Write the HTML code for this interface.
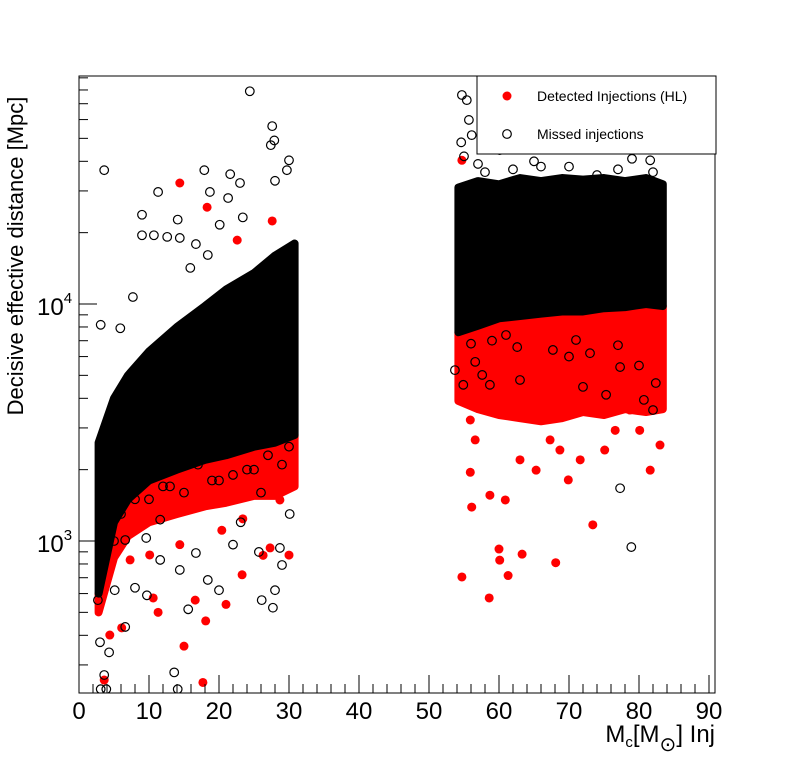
<!DOCTYPE html>
<html><head><meta charset="utf-8">
<style>
html,body{margin:0;padding:0;background:#fff;}
svg{display:block;font-family:"Liberation Sans",sans-serif;}
</style></head>
<body>
<svg id="chart" width="796" height="772" viewBox="0 0 796 772">
<rect x="0" y="0" width="796" height="772" fill="#fff"/>
<g id="plot"></g>
<g id="axes"></g>
<rect x="79" y="76" width="636" height="617" fill="none" stroke="#000" stroke-width="1"/>
<g>
<rect x="477" y="76" width="239" height="78" fill="#fff" stroke="#000" stroke-width="1"/>
<circle cx="507" cy="96" r="4.5" fill="#ff0000"/>
<text x="537" y="101" font-size="14">Detected Injections (HL)</text>
<circle cx="507" cy="134" r="4.3" fill="none" stroke="#000" stroke-width="1.2"/>
<text x="537" y="139" font-size="14">Missed injections</text>
</g>
<text transform="translate(23,256) rotate(-90)" text-anchor="middle" font-size="22">Decisive effective distance [Mpc]</text>
<text x="715" y="742" text-anchor="end" font-size="24">M<tspan font-size="15" dy="5">c</tspan><tspan dy="-5">[M</tspan><tspan font-size="20" dy="9">⊙</tspan><tspan dy="-9">] Inj</tspan></text>
</svg>
<script>
// ---- data ----
const xTicks = [0,10,20,30,40,50,60,70,80,90];
const yMajorTicks = [1000,10000];
const yMajorLabels = ["3","4"];
// Dense cores (envelopes of overlapping markers)
const core1X = [2.8,5,7,10,14,18,21,25,28,30.8];
const core1BlackHi = [2600,4000,5000,6300,8000,9800,11500,13500,16000,18000];
const core1BlackLo = [600,1200,1500,1800,2000,2200,2300,2500,2600,2800];
const core1RedLo = [500,850,1050,1200,1300,1400,1450,1550,1550,1700];
const core2X = [54.2,57,60,63,66,69,72,75,78,81,83.4];
const core2BlackHi = [31000,33000,32000,34000,33000,34000,33500,34000,33000,34000,32000];
const core2BlackLo = [7600,8100,8700,8900,9100,9300,9300,9600,9700,10000,9800];
const core2RedLo = [3900,3600,3400,3300,3200,3300,3500,3400,3600,3500,3600];
// Missed (black) outliers
const missedX = [3.6,3.1,5.9,7.7,9,9,11.3,10.7,12.6,14.1,14.4,17.9,18.7,21.6,23,24.4,27.6,27.9,27.4,30,28,29.7,21.3,23.4,20.1,16.7,18.4,15.9,
 13.6,14.1,3.1,3.9,3.6,3,4.3,2.7,5.1,9.7,11.6,14.4,20,26.1,27.7,28,25.7,29,28.7,22,16.7,18.4,8,6.6,15.6,9.6,23.1,30.1,11.6,6.6,
 19,25,13,8,22,27,17,30,10,12,15,20,24,26,29,5,6,
 54.7,55.4,55.7,56.1,54.6,71,75.6,81.6,80.1,63,68.7,60.1,58,66,74,57,62,70,77,82,55,65,79,
 57.6,58.7,54.9,62.6,71,72,75.3,80.7,82,77.3,67.7,56.6,53.7,63,77.3,78.9,66.9,77,82.4,59,70,80,61,73,56];
const missedY = [36700,8170,7900,10700,23800,19500,29700,19500,19200,22700,19000,36700,29700,35300,32400,79000,56300,49000,46800,40400,33100,36700,28000,23200,21600,17900,16100,14200,
 279,237,237,237,272,374,339,563,620,590,832,755,620,563,523,620,899,792,935,965,890,685,635,434,515,1030,1200,1300,1230,1010,
 1800,2000,1700,1500,1900,2300,2100,2500,1500,1700,1600,1800,2000,1600,2100,1000,1300,
 76200,72500,59800,51600,48100,90000,45000,40400,49000,49000,46800,44600,36000,38000,35000,39000,37000,38000,37000,36000,42000,40000,41000,
 5020,4560,4560,6580,7050,4470,4140,3940,3570,5420,6400,5700,5260,4780,1670,943,9700,6700,4640,7000,6000,5500,7400,6200,6800];
// Detected (red) outliers
const detX = [14.4,18.3,22.6,27.6,17.7,15,11.3,18.1,16.6,23.3,27.3,30,3.6,4.4,6.1,10.6,21,26.3,23.4,10.1,14.4,7.3,20.4,25.1,28.7,17.3,22,12.3,8.7,
 54.7,55.9,60,60.1,58.6,61.3,63.3,68.1,73.4,56.1,58.7,60.9,65.3,69.9,71.6,75.1,76.6,78.7,81.6,83,56.6,63,67.3,55.9,80.1,68.7,54.7];
const detY = [32400,25600,18600,22400,253,360,500,460,563,720,935,872,259,401,430,575,540,870,1240,873,965,832,1110,1640,1490,1420,2300,1560,1810,
 705,1950,925,830,575,715,880,810,1170,1390,1560,1490,1990,1810,2200,2420,2930,3570,1990,2540,2670,2200,2670,3240,2930,2420,40400];

// ---- scales ----
const X0=79, X1=715, Y0=693, Y1=76;
const xs = v => 79 + 7*v;
const ys = v => 541 - 237*(Math.log10(v)-3);
const NS='http://www.w3.org/2000/svg';
const plot=document.getElementById('plot'), axes=document.getElementById('axes');
function mk(tag, attrs, parent){const e=document.createElementNS(NS,tag);for(const k in attrs)e.setAttribute(k,attrs[k]);parent.appendChild(e);return e;}

const defs=mk('defs',{},plot);
const cp=mk('clipPath',{id:'clip'},defs);
mk('rect',{x:X0,y:Y1,width:X1-X0,height:Y0-Y1},cp);
const g=mk('g',{'clip-path':'url(#clip)'},plot);

function band(xArr, hi, lo, color, name){
  let pts=[];
  for(let i=0;i<xArr.length;i++) pts.push(xs(xArr[i])+','+ys(hi[i]));
  for(let i=xArr.length-1;i>=0;i--) pts.push(xs(xArr[i])+','+ys(lo[i]));
  const p=mk('polygon',{points:pts.join(' '),fill:color,stroke:color,'stroke-width':8,'stroke-linejoin':'round'},g);
  
  
}
band(core1X, core1BlackLo, core1RedLo, '#ff0000', 'detected-core-low-mass');
band(core2X, core2BlackLo, core2RedLo, '#ff0000', 'detected-core-high-mass');
for(let i=0;i<detX.length;i++){
  const c=mk('circle',{cx:xs(detX[i]),cy:ys(detY[i]),r:4.5,fill:'#ff0000'},g);
  
  
}
band(core1X, core1BlackHi, core1BlackLo, '#000', 'missed-core-low-mass');
band(core2X, core2BlackHi, core2BlackLo, '#000', 'missed-core-high-mass');
for(let i=0;i<missedX.length;i++){
  const c=mk('circle',{cx:xs(missedX[i]),cy:ys(missedY[i]),r:4.3,fill:'none',stroke:'#000','stroke-width':1.2},g);
  
  
}

for(let v=0; v<=90; v+=2){
  const major = v%10===0;
  mk('line',{x1:xs(v),x2:xs(v),y1:Y0,y2:Y0-(major?18:9),stroke:'#000','stroke-width':1},axes);
}
xTicks.forEach(v=>{
  const t=mk('text',{x:xs(v),y:719,'text-anchor':'middle','font-size':24},axes);
  t.textContent=v;
  
  
});
for(let d=2; d<=4; d++){
  for(let m=1;m<=9;m++){
    const v=m*Math.pow(10,d);
    if(v<228||v>91600) continue;
    mk('line',{x1:X0,x2:X0+(m===1?18:9),y1:ys(v),y2:ys(v),stroke:'#000','stroke-width':1},axes);
  }
}
yMajorTicks.forEach((v,i)=>{
  const t=mk('text',{x:37,y:ys(v)+11,'font-size':24},axes);
  t.textContent='10';
  const s=mk('tspan',{'font-size':15,dy:-12},t);
  s.textContent=yMajorLabels[i];
  
  
});
</script>
</body></html>
